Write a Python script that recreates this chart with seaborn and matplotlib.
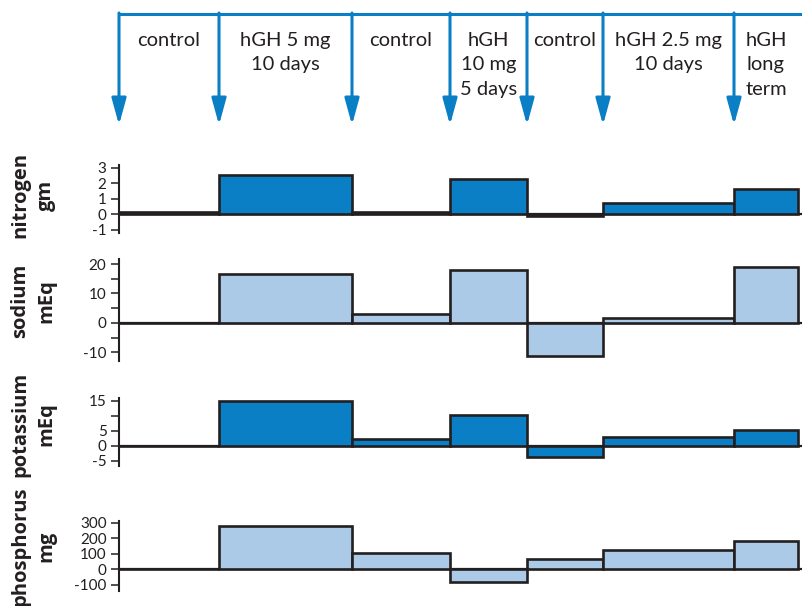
import numpy as np
import pandas as pd
import matplotlib
matplotlib.use("Agg")
import matplotlib.pyplot as plt
import seaborn as sns

# ---- data ----
periods = ["control", "hGH 5 mg\n10 days", "control", "hGH\n10 mg\n5 days",
           "control", "hGH 2.5 mg\n10 days", "hGH\nlong\nterm"]
period_edges = [0, 100, 233, 331, 408, 484, 615, 679]

nitrogen = [0.12, 2.55, 0.12, 2.3, -0.12, 0.7, 1.6]
sodium = [0, 16.5, 3.0, 17.8, -11.1, 1.8, 19.1]
potassium = [0, 15.0, 2.2, 10.3, -3.8, 2.9, 5.3]
phosphorus = [0, 280, 103, -82, 66, 124, 184]

panel_labels = ["nitrogen\ngm", "sodium\nmEq", "potassium\nmEq", "phosphorus\nmg"]
major_ticks = [[3, 2, 1, 0, -1], [20, 10, 0, -10], [15, 5, 0, -5], [300, 200, 100, 0, -100]]
minor_ticks = [[], [15, 5, -5], [10], []]

DARK = "#0a7fc6"
LIGHT = "#abcae8"
EDGE = "#231f20"
ARROW = "#0a7fc6"

sns.set_theme(style="white")
plt.rcParams["font.family"] = ["Lato", "DejaVu Sans"]

W, H = 802, 606
fig = plt.figure(figsize=(W / 100, H / 100), dpi=100)

def px_axes(left, top, right, bottom):
    return fig.add_axes([left / W, 1 - bottom / H, (right - left) / W, (bottom - top) / H])

XL, XR = 119, 802
xlim = (0, XR - XL)

# panel geometry: (top px, bottom px, ylim)
panels = [
    (165, 233, (-1.21, 3.18), nitrogen, DARK),
    (259, 361, (-12.9, 21.7), sodium, LIGHT),
    (398, 466, (-6.7, 16.0), potassium, DARK),
    (521, 591, (-140, 311), phosphorus, LIGHT),
]
label_y = [195, 301, 424, 546]

edges = np.array(period_edges, dtype=float)
centers = (edges[:-1] + edges[1:]) / 2

for i, (top, bot, ylim, vals, col) in enumerate(panels):
    ax = px_axes(XL, top, XR, bot)
    df = pd.DataFrame({"t": centers, "v": vals})
    sns.histplot(data=df, x="t", weights="v", bins=list(period_edges), ax=ax, color=col,
                 alpha=1, edgecolor=EDGE, linewidth=1.9, stat="count", zorder=3)
    ax.axhline(0, color=EDGE, lw=1.6, zorder=2)
    ax.set_xlim(xlim)
    ax.set_ylim(ylim)
    ax.set_xlabel("")
    ax.set_ylabel("")
    for s in ["top", "right", "bottom"]:
        ax.spines[s].set_visible(False)
    ax.spines["left"].set_color(EDGE)
    ax.spines["left"].set_linewidth(1.5)
    ax.set_xticks([])
    ax.set_yticks(major_ticks[i])
    ax.set_yticklabels([str(t) for t in major_ticks[i]])
    ax.set_yticks(minor_ticks[i], minor=True)
    ax.tick_params(axis="y", which="both", left=True, length=6, width=1.1,
                   color=EDGE, direction="out", pad=3, labelsize=11, labelcolor="#231f20")
    ax.patch.set_alpha(0)
    fig.text(33 / W, 1 - label_y[i] / H, panel_labels[i], rotation=90, ha="center",
             va="center", multialignment="center", fontsize=14.5, fontweight="bold",
             family=["Open Sans", "DejaVu Sans"], color="#231f20", linespacing=1.4)

# top timeline with arrows
tax = px_axes(XL, 0, XR, 135)
tax.set_xlim(xlim)
tax.set_ylim(135, 0)
tax.axis("off")
tax.plot([edges[0], xlim[1]], [14, 14], color=ARROW, lw=2.2, solid_capstyle="butt",
         clip_on=False)
for e in edges[:-1]:
    tax.annotate("", xy=(e, 125), xytext=(e, 13),
                 arrowprops=dict(arrowstyle="-|>,head_length=0.8,head_width=0.22",
                                 color=ARROW, lw=2.2, shrinkA=0, shrinkB=0,
                                 mutation_scale=20),
                 annotation_clip=False)
for c, lab in zip(centers, periods):
    tax.text(c, 32, lab, ha="center", va="top", fontsize=14.5, color="#231f20",
             linespacing=1.53)

fig.savefig("out.png", dpi=100)
